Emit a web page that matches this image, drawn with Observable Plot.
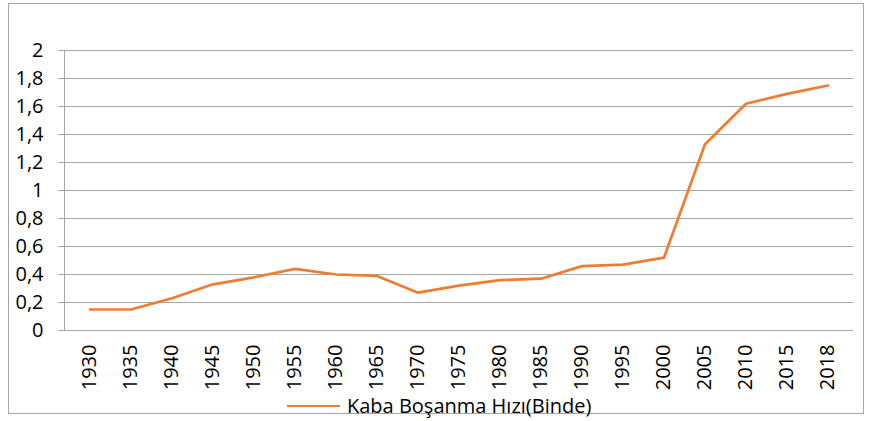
<!DOCTYPE html>
<html>
<head>
<meta charset="utf-8">
<script src="https://cdn.jsdelivr.net/npm/d3@7"></script>
<script src="https://cdn.jsdelivr.net/npm/@observablehq/plot@0.6"></script>
<style>
  html, body { margin: 0; padding: 0; background: #fff; }
  #wrap { position: relative; width: 872px; height: 421px; overflow: hidden; font-family: "Open Sans", sans-serif; }
  #border { position: absolute; left: 8px; top: 3px; width: 856px; height: 411px; box-sizing: border-box; border: 1px solid #a6a6a6; }
  #chart { position: absolute; left: 0; top: 0; }
  #legend { position: absolute; left: 287px; top: 394px; display: flex; align-items: center; font-size: 20px; color: #000; white-space: nowrap; line-height: 24px; }
  #legend .sw { width: 53px; height: 2.5px; background: #ED7D31; margin-right: 7px; }
</style>
</head>
<body>
<div id="wrap">
  <div id="border"></div>
  <div id="chart"></div>
  <div id="legend"><span class="sw"></span><span>Kaba Boşanma Hızı(Binde)</span></div>
</div>
<script>
const years = ["1930","1935","1940","1945","1950","1955","1960","1965","1970","1975","1980","1985","1990","1995","2000","2005","2010","2015","2018"];
const rates = [0.15,0.15,0.23,0.33,0.38,0.44,0.40,0.39,0.27,0.32,0.36,0.37,0.46,0.47,0.52,1.33,1.62,1.69,1.75];
const yTicks = [0,0.2,0.4,0.6,0.8,1,1.2,1.4,1.6,1.8,2];
const seriesName = "Kaba Boşanma Hızı(Binde)";

const data = years.map((y, i) => ({year: y, value: rates[i]}));
const gridColor = "#a6a6a6";

const chart = Plot.plot({
  width: 872,
  height: 421,
  marginLeft: 64,
  marginRight: 19,
  marginTop: 50,
  marginBottom: 91,
  style: { fontFamily: "Open Sans, sans-serif", fontSize: "20px", color: "#000", background: "transparent" },
  x: { type: "band", domain: years, padding: 0, label: null },
  y: { domain: [0, 2], label: null },
  marks: [
    Plot.gridY(yTicks, { stroke: gridColor, strokeOpacity: 1, strokeWidth: 1 }),
    Plot.axisY(yTicks, { tickSize: 6, tickPadding: 15, fontSize: 20, stroke: gridColor, strokeOpacity: 1, tickFormat: d => String(d).replace(".", ","), label: null }),
    Plot.frame({ anchor: "left", stroke: gridColor, strokeOpacity: 1 }),
    Plot.axisX({ tickSize: 0, tickRotate: -90, tickPadding: 14, fontSize: 20, label: null }),
    Plot.lineY(data, { x: "year", y: "value", stroke: "#ED7D31", strokeWidth: 2.7 })
  ]
});
document.getElementById("chart").appendChild(chart);
</script>
</body>
</html>
